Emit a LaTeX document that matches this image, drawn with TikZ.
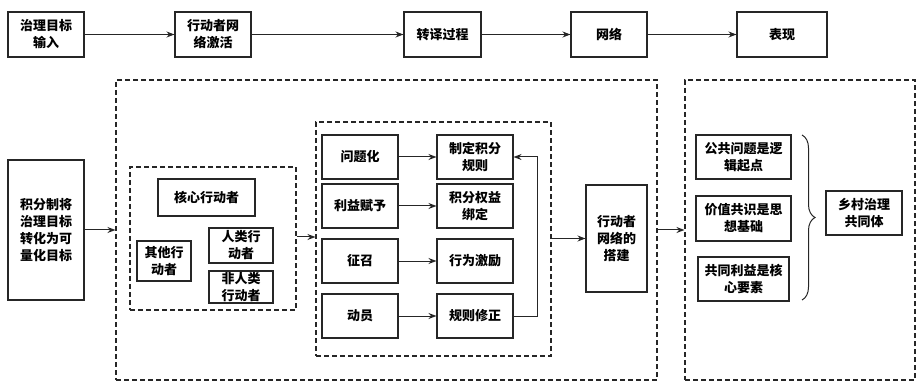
\documentclass[tikz,border=0pt]{standalone}
\usepackage{fontspec}
\setmainfont{Noto Sans CJK SC}
\usetikzlibrary{arrows.meta,decorations.pathreplacing}
\tikzset{
  box/.style={draw=black!85, line width=1.1pt, fill=white, align=center, inner sep=1pt,
    font=\fontsize{13pt}{17pt}\selectfont\bfseries},
  dbox/.style={draw=black!85, line width=1.1pt, dash pattern=on 5pt off 3pt},
  arr/.style={line width=1pt, draw=black!85, -{Stealth[length=8pt,width=6pt]}},
}
\begin{document}
\begin{tikzpicture}[x=1pt,y=-1pt]
\useasboundingbox (0,0) rectangle (920,387);
% top row
\node[box, minimum width=76pt, minimum height=45pt] (a1) at (46,34.5) {治理目标\\输入};
\node[box, minimum width=76pt, minimum height=45pt] (a2) at (213,34.5) {行动者网\\络激活};
\node[box, minimum width=77pt, minimum height=45pt] (a3) at (442.5,34.5) {转译过程};
\node[box, minimum width=76pt, minimum height=45pt] (a4) at (609,34.5) {网络};
\node[box, minimum width=90pt, minimum height=45pt] (a5) at (782,34.5) {表现};
\draw[arr] (a1) -- (a2);
\draw[arr] (a2) -- (a3);
\draw[arr] (a3) -- (a4);
\draw[arr] (a4) -- (a5);
% left
\node[box, minimum width=76pt, minimum height=140pt] (b0) at (46,230) {积分制将\\治理目标\\转化为可\\量化目标};
% big dashed boxes
\node[dbox, minimum width=541pt, minimum height=300pt] (D1) at (386.5,230) {};
\node[dbox, minimum width=230pt, minimum height=300pt] (D2) at (800,230) {};
\draw[arr] (b0.east) -- (D1.west);
\draw[arr] (D1.east) -- (D2.west);
% actors group
\node[dbox, minimum width=166pt, minimum height=143pt] (A) at (213,238.5) {};
\node[box, minimum width=97pt, minimum height=37pt] (core) at (206.5,197.5) {核心行动者};
\node[box, minimum width=54pt, minimum height=40pt] (other) at (164,261) {其他行\\动者};
\node[box, minimum width=64pt, minimum height=35pt] (human) at (241,245.5) {人类行\\动者};
\node[box, minimum width=64pt, minimum height=32pt] (nonhuman) at (241,287) {非人类\\行动者};
% process group
\node[dbox, minimum width=235pt, minimum height=234pt] (P) at (433.5,239) {};
\draw[arr] (A.east |- 0,237) -- (P.west |- 0,237);
\node[box, minimum width=76pt, minimum height=44pt] (l1) at (360,157) {问题化};
\node[box, minimum width=76pt, minimum height=44pt] (l2) at (360,206) {利益赋予};
\node[box, minimum width=76pt, minimum height=44pt] (l3) at (360,261) {征召};
\node[box, minimum width=76pt, minimum height=44pt] (l4) at (360,316) {动员};
\node[box, minimum width=76pt, minimum height=44pt] (r1) at (475,157) {制定积分\\规则};
\node[box, minimum width=76pt, minimum height=44pt] (r2) at (475,206) {积分权益\\绑定};
\node[box, minimum width=76pt, minimum height=44pt] (r3) at (475,261) {行为激励};
\node[box, minimum width=76pt, minimum height=44pt] (r4) at (475,316) {规则修正};
\draw[arr] (l1) -- (r1);
\draw[arr] (l2) -- (r2);
\draw[arr] (l3) -- (r3);
\draw[arr] (l4) -- (r4);
\coordinate (fb) at (537,316);
\draw[arr] (r4.east) -- (fb) |- (r1.east);
\node[box, minimum width=61pt, minimum height=107pt] (N) at (616.5,238.5) {行动者\\网络的\\搭建};
\draw[arr] (P.east |- N.west) -- (N.west);
% right group
\node[box, minimum width=95pt, minimum height=44pt] (p1) at (743.5,157) {公共问题是逻\\辑起点};
\node[box, minimum width=95pt, minimum height=45pt] (p2) at (743.5,218.5) {价值共识是思\\想基础};
\node[box, minimum width=91pt, minimum height=44pt] (p3) at (743.5,279) {共同利益是核\\心要素};
\coordinate (bt) at (802,135);
\coordinate (bb) at (802,300);
\draw[line width=1pt, black!85, decorate, decoration={brace, amplitude=13pt}] (bt) -- (bb);
\node[box, minimum width=76pt, minimum height=44pt] (fin) at (864,213) {乡村治理\\共同体};
\end{tikzpicture}
\end{document}
